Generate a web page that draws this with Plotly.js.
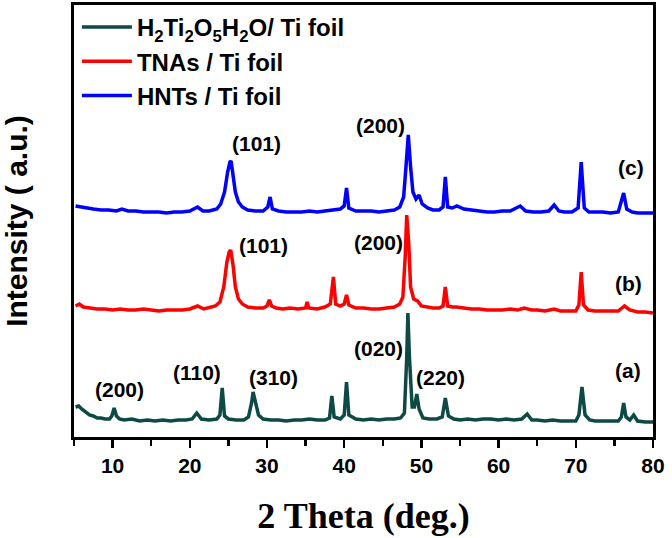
<!DOCTYPE html>
<html>
<head>
<meta charset="utf-8">
<script src="https://cdn.plot.ly/plotly-3.0.1.min.js"></script>
<style>html,body{margin:0;padding:0;background:#fff;}#chart{width:672px;height:538px;}</style>
</head>
<body>
<div id="chart"></div>
<script>
// ---- data (y values in displayed a.u., including the stacking offset) ----
const seriesNames = [
  "H<sub>2</sub>Ti<sub>2</sub>O<sub>5</sub>H<sub>2</sub>O/ Ti foil",
  "TNAs / Ti foil",
  "HNTs / Ti foil"
];
const seriesColors = ["#0e4a45", "#ff0000", "#0000ff"];

const twoTheta_a = [5.2,5.6,6.0,6.5,7.0,7.5,8.0,8.5,9.0,9.6,9.9,10.2,10.5,10.9,11.5,12.5,13.5,14.5,15.5,16.5,17.5,18.5,19.5,20.3,20.9,21.5,22.5,23.5,23.9,24.2,24.5,25,26,27,27.6,28.0,28.2,28.5,28.9,29.5,30.5,31.5,32.5,33.5,34.5,35.5,36.5,37.5,38.1,38.4,38.7,39.5,40.0,40.3,40.6,41.5,42.5,43.5,44.5,45.5,46.5,47.3,47.8,48.1,48.25,48.45,48.8,49.1,49.4,49.7,50.2,51,52,52.7,53.1,53.5,54.2,55,56,57,58,59,60,61,62,63,63.7,64.3,65,66,67,68,69,70,70.4,70.8,71.2,71.8,72.5,73.5,74.5,75.5,75.9,76.2,76.5,77.0,77.5,78.0,79,80];
const intensity_a = [30,31,28,25,22,21,19,19,18,18,21,29,21,18,17,18,16,17,16,17,16,17,17,18,24,18,17,18,22,49,21,18,17,17,20,34,45,35,22,18,17,17,16,17,17,18,17,17,19,41,20,18,22,55,22,18,17,18,17,18,18,19,24,80,124,80,30,30,43,28,19,18,18,20,39,21,18,17,18,17,18,18,17,18,17,18,23,17,17,16,17,16,16,16,22,50,22,17,16,16,16,16,20,34,20,17,22,16,15,15];

const twoTheta_b = [5.2,5.7,6.2,7,8,9,10,11,12,13,14,15,16,17,18,19,20,21.0,21.8,22.5,23.3,23.9,24.4,24.8,25.1,25.3,25.6,25.9,26.3,26.8,27.5,28.5,29.5,30.0,30.3,30.6,31.2,32,33,34,35.0,35.2,35.4,36.5,37.5,38.2,38.6,38.9,39.5,40.0,40.3,40.6,41.5,42.5,43.5,44.5,45.5,46.5,47.2,47.6,47.9,48.1,48.35,48.6,49.0,49.5,50.0,50.8,51.5,52.3,52.8,53.1,53.4,54.0,54.5,55.5,56.5,57.5,58.5,59.5,60.5,61.5,62.5,63.3,64.3,65,66,67.2,68,69,70,70.4,70.7,71.0,71.6,72.5,73.5,74.5,75.5,76.3,77,78,79,80];
const intensity_b = [131,133,130,129,128,128,127,128,127,127,128,127,126,127,127,127,128,131,128,129,131,135,150,175,185,187,172,150,138,133,130,129,129,131,137,131,129,128,129,128,129,135,129,128,130,133,160,133,131,133,142,132,129,129,128,128,129,130,133,140,180,222,195,150,138,136,131,130,129,129,131,150,131,130,130,129,128,128,127,127,127,128,127,129,127,127,126,128,126,126,126,132,165,132,127,126,126,126,126,131,127,125,125,124];

const twoTheta_c = [5.2,5.8,6.5,7.5,8.5,9.5,10.5,11.2,12,13,14,15,16,17,18,19,20,21.0,21.7,22.5,23.5,24.0,24.5,24.9,25.2,25.35,25.6,25.9,26.3,26.8,27.5,28.5,29.5,30.1,30.4,30.7,31.5,32.5,33.5,34.5,35.5,36.5,37.5,38.5,39.5,40.0,40.3,40.6,41.5,42.5,43.5,44.5,45.5,46.5,47.2,47.7,48.0,48.3,48.6,48.9,49.3,49.7,50.1,50.8,51.5,52.3,52.8,53.1,53.4,54.0,54.6,55.5,56.5,57.5,58.5,59.5,60.5,61.5,62.8,63.5,64.5,65.5,66.5,67.2,67.8,68.5,69.5,70.3,70.7,71.1,71.7,72.5,73.5,74.5,75.5,76.2,76.6,77.3,78,79,80];
const intensity_c = [231,230,229,228,227,227,226,228,226,226,225,225,225,224,225,225,226,230,226,226,228,233,245,265,275,276,262,245,235,230,227,226,226,230,240,228,226,225,225,225,226,225,226,227,228,231,249,229,226,226,226,225,226,227,230,240,270,302,270,245,238,242,233,229,227,227,230,260,230,229,231,228,227,226,225,225,226,226,231,226,225,225,226,232,226,225,225,229,275,229,225,225,225,224,225,244,228,225,224,224,224];

// peak labels
const labelText  = ["(101)","(200)","(c)","(101)","(200)","(b)","(200)","(110)","(310)","(020)","(220)","(a)"];
const labelTheta = [28.7,44.7,77.1,29.5,44.4,76.8,10.9,20.9,30.8,44.4,52.5,76.8];
const labelInt   = [294,312,270,192,195,154,48,65,60,89,60,67];

const xTickVals = [10,20,30,40,50,60,70,80];

// ---- chart ----
const xs = [twoTheta_a, twoTheta_b, twoTheta_c];
const ys = [intensity_a, intensity_b, intensity_c];
const traces = xs.map((x, i) => ({
  type: "scatter", mode: "lines", x: x, y: ys[i], name: seriesNames[i],
  line: {color: seriesColors[i], width: 3.5}
}));

const annotations = labelText.map((t, i) => ({
  x: labelTheta[i], y: labelInt[i], xref: "x", yref: "y", text: t, showarrow: false,
  font: {family: "Liberation Sans, Arial", size: 21, color: "#000", weight: "bold"}
}));

const layout = {
  width: 672, height: 538,
  margin: {l: 74, r: 19, t: 5, b: 101},
  paper_bgcolor: "#fff", plot_bgcolor: "#fff",
  showlegend: true,
  legend: {x: 0.005, y: 1.0, xanchor: "left", yanchor: "top", bgcolor: "rgba(0,0,0,0)",
    font: {family: "Liberation Sans, Arial", size: 24, color: "#000", weight: "bold"},
    itemwidth: 50, tracegroupgap: 0},
  xaxis: {
    range: [5, 80], tickvals: xTickVals, ticks: "outside", ticklen: 8, tickwidth: 2.5, tickcolor: "#000",
    showline: true, linewidth: 3, linecolor: "#000", mirror: true, showgrid: false, zeroline: false,
    tickfont: {family: "Liberation Sans, Arial", size: 21, color: "#000", weight: "bold"},
    minor: {dtick: 5, tick0: 0, ticks: "outside", ticklen: 6, tickwidth: 2.5, tickcolor: "#000", showgrid: false},
    title: {text: "2 Theta (deg.)", standoff: 27,
      font: {family: "Liberation Serif, Times New Roman", size: 36, color: "#000", weight: "bold"}}
  },
  yaxis: {
    range: [0, 432], showticklabels: false, ticks: "", showgrid: false, zeroline: false,
    showline: true, linewidth: 3, linecolor: "#000", mirror: true,
    title: {text: "Intensity ( a.u.)", standoff: 38,
      font: {family: "Liberation Sans, Arial", size: 30, color: "#000", weight: "bold"}}
  },
  annotations: annotations
};

Plotly.newPlot("chart", traces, layout, {displayModeBar: false, staticPlot: true});
</script>
</body>
</html>
